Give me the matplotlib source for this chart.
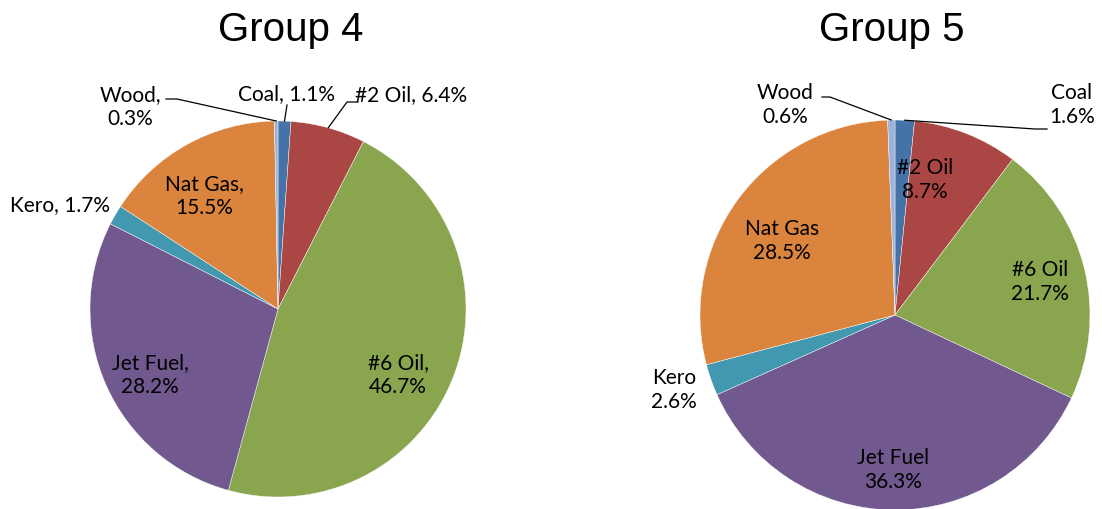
import matplotlib.pyplot as plt
import numpy as np

fuels = ['Coal', '#2 Oil', '#6 Oil', 'Jet Fuel', 'Kero', 'Nat Gas', 'Wood']
group4 = [1.1, 6.4, 46.7, 28.2, 1.7, 15.5, 0.3]
group5 = [1.6, 8.7, 21.7, 36.3, 2.6, 28.5, 0.6]
colors = ['#4572A7', '#AA4643', '#89A54E', '#71588F', '#4198AF', '#DB843D', '#9DB3DB']

W, H = 1102, 510
fig = plt.figure(figsize=(W / 100, H / 100), dpi=100)
ax = fig.add_axes([0, 0, 1, 1])

lab_font = dict(family=['Lato', 'DejaVu Sans'], fontsize=15, color='black')

# pixel-space layout, y measured from the top edge
pies = [
    dict(title='Group 4', vals=group4, cx=278, cy=310, r=188, tx=291, sep=', ',
         pos={'Coal': (287, 94), '#2 Oil': (411, 95), '#6 Oil': (398, 375),
              'Jet Fuel': (150, 375), 'Kero': (60, 205), 'Nat Gas': (204, 196),
              'Wood': (130, 107)},
         lines={'Wood': [(166, 100), (177, 100)], 'Coal': [(287, 106)],
                '#2 Oil': [(358, 103), (347, 103)]}),
    dict(title='Group 5', vals=group5, cx=895, cy=316, r=195, tx=892, sep='\n',
         pos={'Coal': (1072, 105), '#2 Oil': (925, 180), '#6 Oil': (1040, 282),
              'Jet Fuel': (893, 470), 'Kero': (674, 390), 'Nat Gas': (782, 241),
              'Wood': (785, 105)},
         lines={'Wood': [(822, 98), (830, 98)], 'Coal': [(1047, 130), (1035, 130)]}),
]

two_line = {'Wood', 'Nat Gas', 'Jet Fuel', '#6 Oil'}

for p in pies:
    cx, cy, r = p['cx'], H - p['cy'], p['r']
    wedges, _ = ax.pie(p['vals'], colors=colors, startangle=90, counterclock=False,
                       center=(cx, cy), radius=r, frame=True,
                       wedgeprops=dict(edgecolor='white', linewidth=0.3))
    ax.text(p['tx'], H - 30, p['title'], ha='center', va='center',
            family=['Liberation Sans', 'DejaVu Sans'], fontsize=29)
    for name, val, w in zip(fuels, p['vals'], wedges):
        if p['sep'] == ', ' and name in two_line:
            txt = f'{name},\n{val:.1f}%'
        else:
            txt = f'{name}{p["sep"]}{val:.1f}%'
        x, y = p['pos'][name]
        ax.text(x, H - y, txt, ha='center', va='center', linespacing=1.2, **lab_font)
        if name in p['lines']:
            mid = np.deg2rad((w.theta1 + w.theta2) / 2)
            pts = [(px, H - py) for px, py in p['lines'][name]]
            pts.append((cx + r * np.cos(mid), cy + r * np.sin(mid)))
            xs, ys = zip(*pts)
            ax.plot(xs, ys, color='black', lw=0.9)

ax.set_xlim(0, W)
ax.set_ylim(0, H)
ax.set_aspect('equal')
ax.axis('off')
fig.savefig('out.png', dpi=100)
